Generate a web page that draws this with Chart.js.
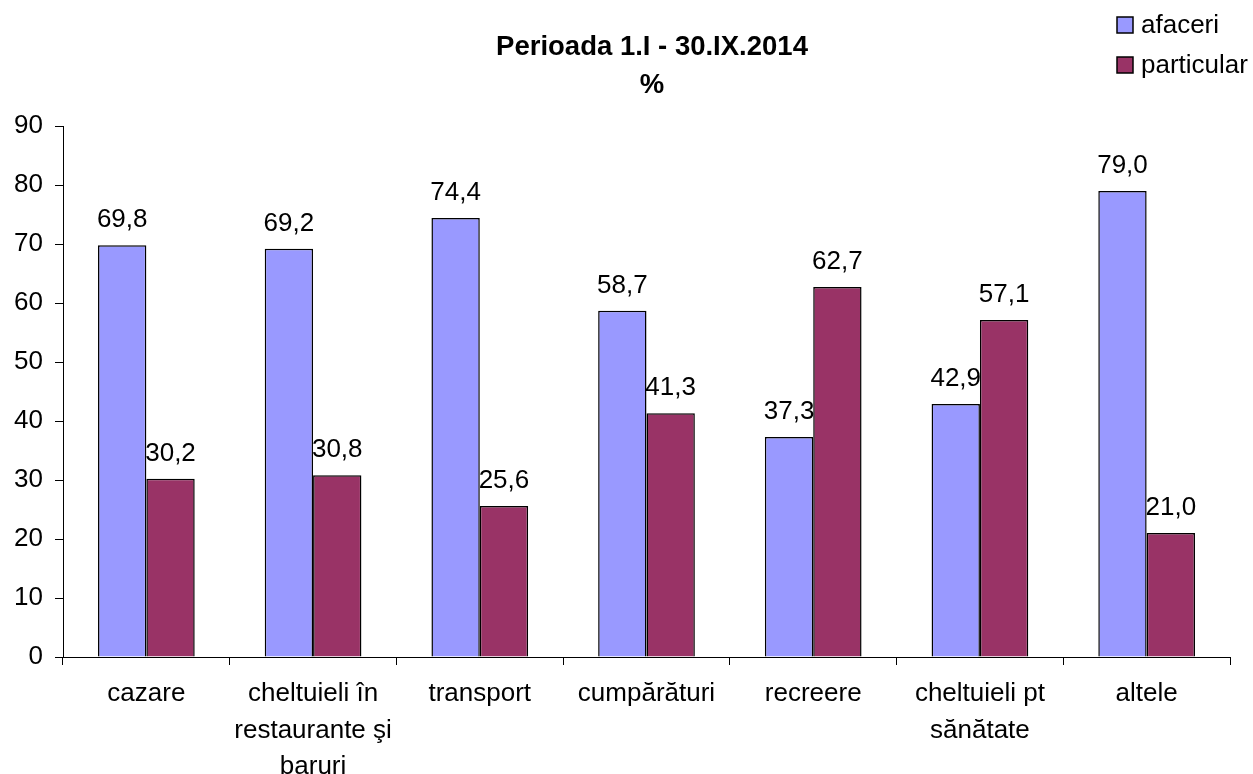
<!DOCTYPE html>
<html>
<head>
<meta charset="utf-8">
<script src="https://cdn.jsdelivr.net/npm/chart.js@4/dist/chart.umd.min.js"></script>
<style>
  html, body { margin: 0; padding: 0; background: #fff; }
  #wrap { width: 1253px; height: 774px; }
</style>
</head>
<body>
<div id="wrap"><canvas id="chart" width="1253" height="774"></canvas></div>
<script>
const categories = [
  "cazare",
  ["cheltuieli în", "restaurante şi", "baruri"],
  "transport",
  "cumpărături",
  "recreere",
  ["cheltuieli pt", "sănătate"],
  "altele"
]
const afaceri = [69.8, 69.2, 74.4, 58.7, 37.3, 42.9, 79.0]
const particular = [30.2, 30.8, 25.6, 41.3, 62.7, 57.1, 21.0]
const titleLines = ["Perioada 1.I - 30.IX.2014", "%"]

const FONT = "Arial, 'Liberation Sans', sans-serif"

const valueLabels = {
  id: "valueLabels",
  afterDatasetsDraw(chart) {
    const ctx = chart.ctx
    ctx.save()
    ctx.font = "26px " + FONT
    ctx.fillStyle = "#000"
    ctx.textAlign = "center"
    ctx.textBaseline = "alphabetic"
    chart.data.datasets.forEach((ds, i) => {
      chart.getDatasetMeta(i).data.forEach((bar, j) => {
        const txt = ds.data[j].toFixed(1).replace(".", ",")
        ctx.fillText(txt, bar.x, bar.y - 18)
      })
    })
    ctx.restore()
  }
}

const titleAndLegend = {
  id: "titleAndLegend",
  afterDraw(chart) {
    const ctx = chart.ctx
    ctx.save()
    ctx.fillStyle = "#000"
    ctx.textAlign = "center"
    ctx.textBaseline = "middle"
    ctx.font = "bold 27.5px " + FONT
    ctx.fillText(titleLines[0], 652, 47)
    ctx.fillText(titleLines[1], 652, 85)

    ctx.font = "26px " + FONT
    ctx.textAlign = "left"
    chart.data.datasets.forEach((ds, i) => {
      const y = 25 + i * 40
      ctx.fillStyle = ds.backgroundColor
      ctx.fillRect(1117, y - 8, 16, 16)
      ctx.strokeStyle = "#000"
      ctx.lineWidth = 1.5
      ctx.strokeRect(1117, y - 8, 16, 16)
      ctx.fillStyle = "#000"
      ctx.fillText(ds.label, 1141, y + 1)
    })
    ctx.restore()
  }
}

new Chart(document.getElementById("chart"), {
  type: "bar",
  data: {
    labels: categories,
    datasets: [
      {
        label: "afaceri",
        data: afaceri,
        backgroundColor: "#9999FF",
        borderColor: "#000",
        borderWidth: 1.5,
        categoryPercentage: 0.58,
        barPercentage: 1
      },
      {
        label: "particular",
        data: particular,
        backgroundColor: "#993366",
        borderColor: "#000",
        borderWidth: 1.5,
        categoryPercentage: 0.58,
        barPercentage: 1
      }
    ]
  },
  options: {
    responsive: false,
    animation: false,
    layout: { padding: { top: 126, right: 23, left: 0, bottom: 0 } },
    plugins: {
      legend: { display: false },
      title: { display: false },
      tooltip: { enabled: false }
    },
    scales: {
      x: {
        grid: { drawOnChartArea: false, tickLength: 8, color: "#000", offset: true },
        border: { color: "#000", width: 1 },
        ticks: {
          color: "#000",
          font: { family: FONT, size: 26, lineHeight: 1.4 },
          padding: 11,
          maxRotation: 0,
          autoSkip: false
        },
        afterFit(scale) { scale.height = 117 }
      },
      y: {
        min: 0,
        max: 90,
        grid: { drawOnChartArea: false, tickLength: 8, color: "#000" },
        border: { color: "#000", width: 1 },
        ticks: {
          stepSize: 10,
          color: "#000",
          font: { family: FONT, size: 26 },
          padding: 12
        },
        afterFit(scale) { scale.width = 63 }
      }
    }
  },
  plugins: [valueLabels, titleAndLegend]
})
</script>
</body>
</html>
